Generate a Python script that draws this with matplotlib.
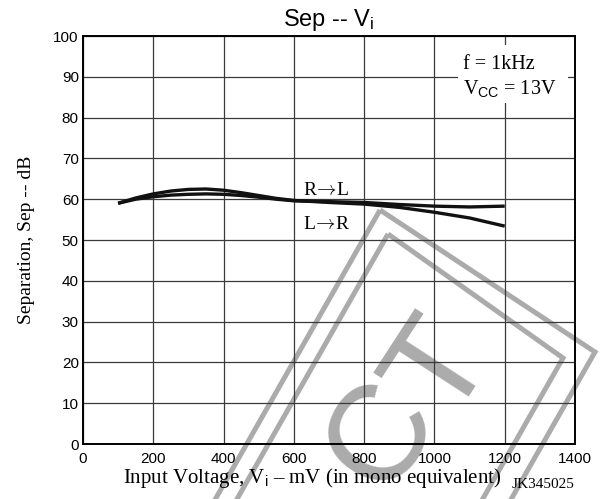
import matplotlib
matplotlib.use("Agg")
import matplotlib.pyplot as plt
from matplotlib.patches import Polygon, Rectangle
from matplotlib.transforms import Affine2D
import numpy as np

plt.rcParams["font.family"] = ["Liberation Sans", "DejaVu Sans"]
plt.rcParams["mathtext.fontset"] = "custom"
plt.rcParams["mathtext.rm"] = "Liberation Serif"
plt.rcParams["mathtext.sf"] = "Liberation Sans"
plt.rcParams["mathtext.it"] = "Liberation Serif:italic"

# Input voltage (mV, mono equivalent)
vin = [100, 150, 200, 250, 300, 350, 400, 450, 500, 550, 600,
       700, 800, 900, 1000, 1100, 1200]
# Channel separation (dB)
sep_l_to_r = [59.0, 60.3, 61.3, 62.0, 62.4, 62.5, 62.2, 61.6, 60.9, 60.2, 59.7,
              59.2, 58.8, 58.0, 56.8, 55.4, 53.4]
sep_r_to_l = [59.0, 60.0, 60.6, 61.0, 61.2, 61.3, 61.2, 60.9, 60.5, 60.0, 59.6,
              59.4, 59.2, 58.7, 58.3, 58.1, 58.3]

x_ticks = [0, 200, 400, 600, 800, 1000, 1200, 1400]
y_ticks = [0, 10, 20, 30, 40, 50, 60, 70, 80, 90, 100]

W, H, DPI = 601, 499, 100
fig = plt.figure(figsize=(W / DPI, H / DPI), dpi=DPI)
fig.patch.set_facecolor("white")

# pixel transform (origin top-left) for the background stamp
px = Affine2D().scale(1 / DPI, -1 / DPI).translate(0, H / DPI) + fig.dpi_scale_trans

stamp = "#ababab"
down_left = np.array([-0.495, 0.869])


def frame(top, right, depth):
    t = np.array(top, dtype=float)
    r = np.array(right, dtype=float)
    pts = [t, r, r + depth * down_left, t + depth * down_left]
    return Polygon(pts, closed=True, fill=False, edgecolor=stamp, linewidth=3.6,
                   transform=px, zorder=-5)


fig.patches.append(frame((380, 210), (595, 352), 600))
fig.patches.append(frame((388, 234), (563, 358), 560))
for ch, pos in (("C", (412, 455)), ("T", (472, 388))):
    fig.text(pos[0], pos[1], ch, transform=px, fontsize=98, color=stamp,
             family="Liberation Sans", rotation=57, rotation_mode="anchor",
             ha="center", va="baseline", zorder=-5)

ax = fig.add_axes([83 / W, 1 - 444 / H, (575 - 83) / W, (444 - 36) / H])
ax.set_facecolor("none")

ax.plot(vin, sep_l_to_r, color="#111111", lw=2.4, solid_capstyle="butt", zorder=3)
ax.plot(vin, sep_r_to_l, color="#111111", lw=2.4, solid_capstyle="butt", zorder=3)

ax.set_xlim(0, 1400)
ax.set_ylim(0, 100)
ax.set_xticks(x_ticks)
ax.set_yticks(y_ticks)
ax.grid(True, color="#3a3a3a", lw=0.9)
ax.tick_params(axis="both", length=0, labelsize=11)
ax.tick_params(axis="x", pad=6)
ax.tick_params(axis="y", pad=3)
for s in ax.spines.values():
    s.set_linewidth(1.4)
    s.set_color("black")

serif = ["Liberation Serif", "DejaVu Serif"]

ax.set_title("Sep -- V$_\\mathsf{i}$", fontsize=17, pad=7)
ax.set_ylabel("Separation, Sep -- dB", fontsize=14, family=serif, labelpad=13)
ax.text(0.466, -0.0956, "Input Voltage, V$_\\mathsf{i}$ \u2013 mV (in mono equivalent)",
        transform=ax.transAxes, fontsize=15, family=serif, ha="center", va="baseline")
ax.text(1.0, -0.108, "JK345025", transform=ax.transAxes, fontsize=11, family=serif,
        ha="right", va="baseline")

# condition box
ax.add_patch(Rectangle((1067, 83.6), 313, 14.2, facecolor="white", edgecolor="none",
                       zorder=2.2))
ax.text(1081, 91.9, "f = 1kHz", fontsize=14.5, family=serif, ha="left", va="baseline",
        zorder=4)
ax.text(1081, 85.8, "V$_{\\mathsf{CC}}$ = 13V", fontsize=14.5, family=serif, ha="left",
        va="baseline", zorder=4)

ax.text(626, 61.0, "R$\\!\\rightarrow\\!$L", fontsize=14, family=serif, math_fontfamily="cm",
        ha="left", va="baseline", zorder=4)
ax.text(626, 52.7, "L$\\!\\rightarrow\\!$R", fontsize=14, family=serif, math_fontfamily="cm",
        ha="left", va="baseline", zorder=4)

fig.savefig("out.png", dpi=DPI)
